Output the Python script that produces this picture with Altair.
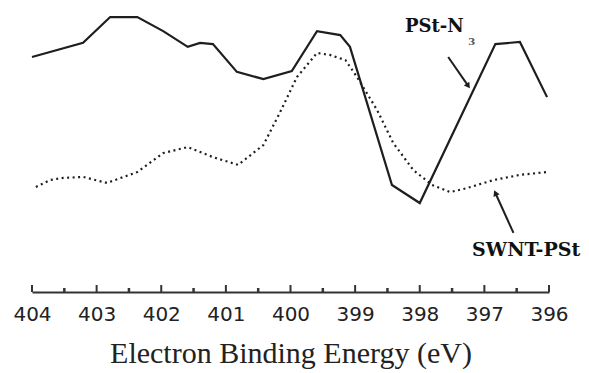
import altair as alt
import pandas as pd

# XPS N1s spectra: PSt-N3 (solid) and SWNT-PSt (dotted)
energy_pst = [404.00, 403.21, 402.79, 402.37, 401.97, 401.59, 401.40, 401.20,
              400.83, 400.42, 399.98, 399.59, 399.23, 399.08, 398.43, 398.00,
              396.83, 396.45, 396.03]
intensity_pst = [81.9, 86.8, 95.8, 95.8, 90.9, 85.4, 86.8, 86.4,
                 76.7, 74.2, 77.0, 90.9, 89.5, 85.4, 37.3, 31.0,
                 86.4, 87.1, 67.9]

energy_swnt = [403.94, 403.72, 403.54, 403.21, 402.84, 402.37, 401.97, 401.59,
               401.20, 400.81, 400.42, 400.16, 399.90, 399.59, 399.39, 399.15,
               398.97, 398.66, 398.41, 398.10, 397.81, 397.53, 397.27, 396.86,
               396.45, 396.03]
intensity_swnt = [36.6, 39.0, 39.7, 40.1, 38.0, 41.8, 48.4, 50.5,
                  47.0, 44.3, 51.2, 62.7, 74.9, 83.3, 82.6, 80.8,
                  74.9, 63.4, 51.9, 42.5, 37.3, 34.8, 36.2, 39.0,
                  40.8, 41.8]

major_ticks = [404, 403, 402, 401, 400, 399, 398, 397, 396]
minor_ticks = [403.5, 402.5, 401.5, 400.5, 399.5, 398.5, 397.5, 396.5]

# annotation labels and arrows (energy, intensity)
label_names = ["PSt-N", "SWNT-PSt"]
label_energy = [398.23, 397.19]
label_intensity = [90.6, 12.5]
label_sizes = [18, 19]
sub_text = ["3"]
sub_energy = [397.25]
sub_intensity = [86.0]
arrow_tail_e = [397.56, 396.55]
arrow_tail_i = [81.9, 20.6]
arrow_head_e = [397.25, 396.83]
arrow_head_i = [71.8, 34.5]
arrow_angle = [145, 336]

W, H = 517, 287
ink = "#1e1e1e"

x_scale = alt.Scale(domain=[404, 396], nice=False, zero=False)
y_scale = alt.Scale(domain=[0, 100], nice=False, zero=False)

x_axis = alt.Axis(
    values=major_ticks, format="d", ticks=False, grid=False,
    labelFlush=False, labelOverlap=False,
    domainColor="#333333", domainWidth=2,
    labelFont="DejaVu Sans", labelFontSize=20, labelColor="#222222",
    labelPadding=12,
    title="Electron Binding Energy (eV)", titleFont="Liberation Serif",
    titleFontSize=30, titleFontWeight="normal", titleColor="#222222",
    titlePadding=14,
)


def X(field):
    return alt.X(field, scale=x_scale, axis=x_axis)


def Y(field):
    return alt.Y(field, scale=y_scale, axis=None)


pst = pd.DataFrame({"energy": energy_pst, "intensity": intensity_pst})
swnt = pd.DataFrame({"energy": energy_swnt, "intensity": intensity_swnt})
majors = pd.DataFrame({"energy": major_ticks})
minors = pd.DataFrame({"energy": minor_ticks})
labels = pd.DataFrame({"label": label_names, "energy": label_energy,
                       "intensity": label_intensity, "size": label_sizes})
subs = pd.DataFrame({"label": sub_text, "energy": sub_energy,
                     "intensity": sub_intensity})
arrows = pd.DataFrame({"e1": arrow_tail_e, "i1": arrow_tail_i,
                       "e2": arrow_head_e, "i2": arrow_head_i})

line_pst = alt.Chart(pst).mark_line(color=ink, strokeWidth=2.2).encode(
    x=X("energy:Q"), y=Y("intensity:Q"),
)

line_swnt = alt.Chart(swnt).mark_line(
    color=ink, strokeWidth=2.2, strokeDash=[2, 3.5]
).encode(x=X("energy:Q"), y=Y("intensity:Q"))

major = alt.Chart(majors).mark_rule(color="#333333", strokeWidth=2).encode(
    x=X("energy:Q"), y=alt.value(H - 7), y2=alt.value(H)
)

minor = alt.Chart(minors).mark_rule(color="#333333", strokeWidth=2.5).encode(
    x=X("energy:Q"), y=alt.value(H - 4), y2=alt.value(H)
)

arrow_lines = alt.Chart(arrows).mark_rule(color=ink, strokeWidth=2).encode(
    x=X("e1:Q"), y=Y("i1:Q"), x2=alt.X2("e2:Q"), y2=alt.Y2("i2:Q"),
)

heads = []
for k in range(len(arrow_angle)):
    head_df = pd.DataFrame({"e": [arrow_head_e[k]], "i": [arrow_head_i[k]]})
    heads.append(
        alt.Chart(head_df).mark_point(
            shape="triangle-up", filled=True, color=ink, size=45,
            opacity=1, angle=arrow_angle[k]
        ).encode(x=X("e:Q"), y=Y("i:Q"))
    )

label_text = alt.Chart(labels).mark_text(
    font="DejaVu Serif", fontWeight="bold", color="#111111",
    align="left", baseline="alphabetic"
).encode(
    x=X("energy:Q"), y=Y("intensity:Q"), text="label:N",
    size=alt.Size("size:Q", scale=None, legend=None),
)

sub_label = alt.Chart(subs).mark_text(
    font="DejaVu Serif", fontWeight="bold", fontSize=10, color="#555555",
    align="left", baseline="alphabetic"
).encode(x=X("energy:Q"), y=Y("intensity:Q"), text="label:N")

chart = alt.layer(
    line_swnt, line_pst, major, minor, arrow_lines, *heads,
    label_text, sub_label,
).properties(
    width=W, height=H,
    autosize=alt.AutoSizeParams(type="none"),
    padding={"left": 32, "top": 5, "right": 40, "bottom": 81},
    background="white",
).configure_view(stroke=None)

chart.save("out.html", embed_options={"renderer": "svg", "actions": False})
